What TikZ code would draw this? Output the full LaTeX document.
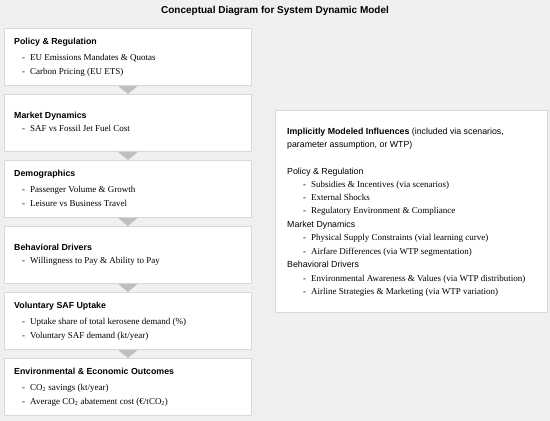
\documentclass[tikz,border=0pt]{standalone}
\usepackage{fontspec}
\setmainfont{Liberation Serif}
\setsansfont{Liberation Sans}
\usetikzlibrary{positioning, calc}
\definecolor{bggray}{HTML}{F0F0F0}
\definecolor{linegray}{HTML}{D9D9D9}
\definecolor{flowgray}{HTML}{BFBFBF}

\tikzset{
  box/.style={draw=linegray, line width=0.8pt, fill=white, anchor=north west,
    minimum width=247pt, minimum height=57pt, inner sep=0pt},
  head/.style={anchor=base west, inner sep=0pt, font=\sffamily\bfseries\fontsize{8.8}{10}\selectfont},
  item/.style={anchor=base west, inner sep=0pt, font=\fontsize{9}{10}\selectfont},
  group/.style={anchor=base west, inner sep=0pt, font=\sffamily\fontsize{8.8}{10}\selectfont},
  flow/.style={fill=flowgray},
}

\begin{document}
\begin{tikzpicture}[x=1pt, y=-1pt]
	\fill[bggray] (0,0) rectangle (550,421);
	\useasboundingbox (0,0) rectangle (550,421);

	\node[font=\sffamily\bfseries\fontsize{10}{12}\selectfont] (title) at (275,11) {Conceptual Diagram for System Dynamic Model};

	% main chain of boxes
	\node[box] (b1) at (4,28) {};
	\node[box] (b2) at (4,94) {};
	\node[box] (b3) at (4,160) {};
	\node[box] (b4) at (4,226) {};
	\node[box] (b5) at (4,292) {};
	\node[box] (b6) at (4,358) {};

	\node[head] (h1) at ($(b1.north west)+(10,16.5)$) {Policy \& Regulation};
	\node[item] (i11) at ($(b1.north west)+(18,32.3)$) {-\hspace{5pt}EU Emissions Mandates \& Quotas};
	\node[item] (i12) at ($(b1.north west)+(18,46)$) {-\hspace{5pt}Carbon Pricing (EU ETS)};

	\node[head] (h2) at ($(b2.north west)+(10,24)$) {Market Dynamics};
	\node[item] (i21) at ($(b2.north west)+(18,37.5)$) {-\hspace{5pt}SAF vs Fossil Jet Fuel Cost};

	\node[head] (h3) at ($(b3.north west)+(10,16.5)$) {Demographics};
	\node[item] (i31) at ($(b3.north west)+(18,32.3)$) {-\hspace{5pt}Passenger Volume \& Growth};
	\node[item] (i32) at ($(b3.north west)+(18,46)$) {-\hspace{5pt}Leisure vs Business Travel};

	\node[head] (h4) at ($(b4.north west)+(10,24)$) {Behavioral Drivers};
	\node[item] (i41) at ($(b4.north west)+(18,37.5)$) {-\hspace{5pt}Willingness to Pay \& Ability to Pay};

	\node[head] (h5) at ($(b5.north west)+(10,16.5)$) {Voluntary SAF Uptake};
	\node[item] (i51) at ($(b5.north west)+(18,32.3)$) {-\hspace{5pt}Uptake share of total kerosene demand (\%)};
	\node[item] (i52) at ($(b5.north west)+(18,46)$) {-\hspace{5pt}Voluntary SAF demand (kt/year)};

	\node[head] (h6) at ($(b6.north west)+(10,16.5)$) {Environmental \& Economic Outcomes};
	\node[item] (i61) at ($(b6.north west)+(18,32.3)$) {-\hspace{5pt}CO\textsubscript{2} savings (kt/year)};
	\node[item] (i62) at ($(b6.north west)+(18,46)$) {-\hspace{5pt}Average CO\textsubscript{2} abatement cost (€/tCO\textsubscript{2})};

	\fill[flow] ($(b1.south)+(-10,0)$) -- ($(b1.south)+(10,0)$) -- (b2.north) -- cycle;
	\fill[flow] ($(b2.south)+(-10,0)$) -- ($(b2.south)+(10,0)$) -- (b3.north) -- cycle;
	\fill[flow] ($(b3.south)+(-10,0)$) -- ($(b3.south)+(10,0)$) -- (b4.north) -- cycle;
	\fill[flow] ($(b4.south)+(-10,0)$) -- ($(b4.south)+(10,0)$) -- (b5.north) -- cycle;
	\fill[flow] ($(b5.south)+(-10,0)$) -- ($(b5.south)+(10,0)$) -- (b6.north) -- cycle;

	% implicit influences
	\node[box, minimum width=272pt, minimum height=202pt] (imp) at (275,110) {};
	\node[group] (ih1) at ($(imp.north west)+(12,24)$) {\textbf{Implicitly Modeled Influences} (included via scenarios,};
	\node[group] (ih2) at ($(imp.north west)+(12,37)$) {parameter assumption, or WTP)};
	\node[group] (g1) at ($(imp.north west)+(12,64)$) {Policy \& Regulation};
	\node[item] (j11) at ($(imp.north west)+(28,77)$) {-\hspace{5pt}Subsidies \& Incentives (via scenarios)};
	\node[item] (j12) at ($(imp.north west)+(28,90.5)$) {-\hspace{5pt}External Shocks};
	\node[item] (j13) at ($(imp.north west)+(28,103.7)$) {-\hspace{5pt}Regulatory Environment \& Compliance};
	\node[group] (g2) at ($(imp.north west)+(12,117)$) {Market Dynamics};
	\node[item] (j21) at ($(imp.north west)+(28,130.5)$) {-\hspace{5pt}Physical Supply Constraints (vial learning curve)};
	\node[item] (j22) at ($(imp.north west)+(28,144)$) {-\hspace{5pt}Airfare Differences (via WTP segmentation)};
	\node[group] (g3) at ($(imp.north west)+(12,157)$) {Behavioral Drivers};
	\node[item] (j31) at ($(imp.north west)+(28,171)$) {-\hspace{5pt}Environmental Awareness \& Values (via WTP distribution)};
	\node[item] (j32) at ($(imp.north west)+(28,184)$) {-\hspace{5pt}Airline Strategies \& Marketing (via WTP variation)};
\end{tikzpicture}
\end{document}
